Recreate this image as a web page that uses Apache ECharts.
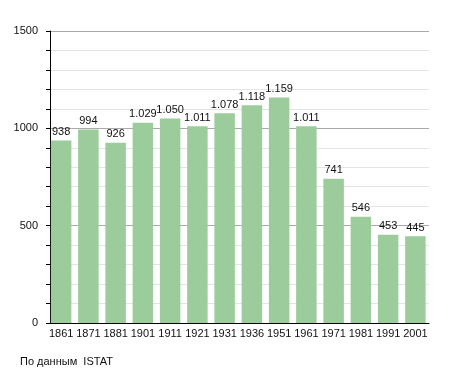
<!DOCTYPE html>
<html><head><meta charset="utf-8">
<script src="https://cdn.jsdelivr.net/npm/echarts@6/dist/echarts.min.js"></script>
<style>html,body{margin:0;padding:0;background:#fff}#c{width:455px;height:373px}</style>
</head><body><div id="c"></div>
<script>
const years = ['1861','1871','1881','1901','1911','1921','1931','1936','1951','1961','1971','1981','1991','2001'];
const population = [938, 994, 926, 1029, 1050, 1011, 1078, 1118, 1159, 1011, 741, 546, 453, 445];
const yTicks = [0, 500, 1000, 1500];
const sourceText = 'По данным  ISTAT';

const fmt = v => String(v).replace(/\B(?=(\d{3})+(?!\d))/g, '.');
const chart = echarts.init(document.getElementById('c'), null, {renderer: 'canvas'});
chart.setOption({
  animation: false,
  textStyle: {fontFamily: 'Liberation Sans, Arial, sans-serif'},
  grid: {left: 47.5, right: 26, top: 31, bottom: 50, containLabel: false},
  xAxis: {
    type: 'category', data: years,
    axisLine: {lineStyle: {color: '#000', width: 1}},
    axisTick: {show: false},
    axisLabel: {color: '#111', fontSize: 11, margin: 5, interval: 0}
  },
  yAxis: {
    type: 'value', min: yTicks[0], max: yTicks[yTicks.length - 1], interval: 500,
    offset: -2.5,
    axisLine: {show: true, lineStyle: {color: '#000', width: 1}},
    axisTick: {show: true, length: 4, lineStyle: {color: '#000'}},
    minorTick: {show: true, splitNumber: 5, length: 4, lineStyle: {color: '#000'}},
    axisLabel: {color: '#111', fontSize: 11, margin: 12, formatter: v => String(v)},
    splitLine: {lineStyle: {color: '#aaaaaa', width: 1}},
    minorSplitLine: {show: true, lineStyle: {color: '#e4e4e4', width: 1}}
  },
  series: [{
    type: 'bar', data: population, barWidth: 20.5,
    itemStyle: {color: '#9ccc9c'},
    label: {show: true, position: 'top', distance: 3, color: '#111', fontSize: 11,
      formatter: p => fmt(p.value)}
  }],
  graphic: [{type: 'text', left: 20, top: 356,
    style: {text: sourceText, fill: '#111', fontSize: 11, fontFamily: 'Liberation Sans, Arial, sans-serif'}}]
});
</script></body></html>
